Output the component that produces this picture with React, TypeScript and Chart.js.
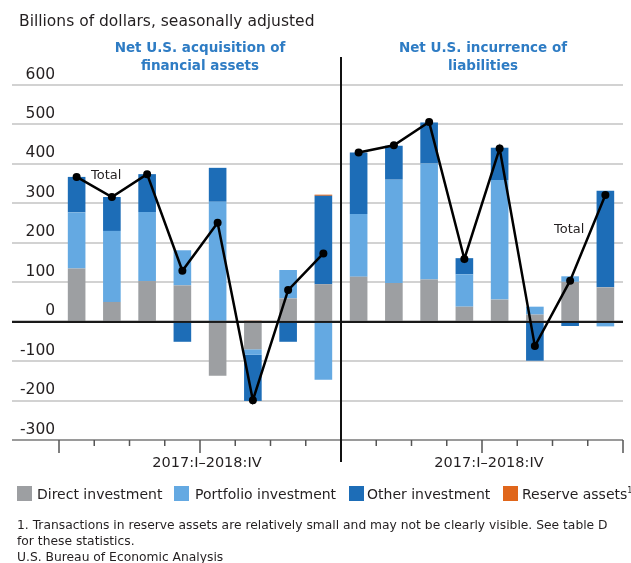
import React, { useEffect, useRef } from "react";
import { Chart, registerables } from "chart.js";

Chart.register(...registerables);

// ---- data ----
const quarters = ["2017:I", "2017:II", "2017:III", "2017:IV", "2018:I", "2018:II", "2018:III", "2018:IV"];
const panelLabel = "2017:I–2018:IV";

const assetsDirect = [135, 50, 103, 92, -137, -70, 59, 95];
const assetsPortfolio = [142, 180, 175, 89, 304, -14, 72, -147];
const assetsOther = [90, 86, 96, -51, 86, -117, -51, 224];
const assetsReserve = [0, 0, 0, 0, 0, 2, 0, 3];
const assetsTotal = [367, 316, 374, 129, 251, -199, 80, 173];

const liabDirect = [114, 98, 107, 38, 56, 18, 101, 87];
const liabPortfolio = [159, 262, 294, 82, 303, 20, 14, -12];
const liabOther = [156, 86, 104, 41, 82, -99, -11, 245];
const liabReserve = [0, 0, 0, 0, 0, 0, 0, 0];
const liabTotal = [429, 447, 506, 159, 439, -62, 104, 321];

const yMin = -300;
const yMax = 600;
const yStep = 100;

const COLORS = {
  direct: "#9d9fa2",
  portfolio: "#64a9e2",
  other: "#1d6db7",
  reserve: "#e0661b",
  total: "#000000",
  header: "#2e7cc4",
  text: "#231f20",
};

const FONT = "'DejaVu Sans', 'Noto Sans', sans-serif";

const nQ = quarters.length;
const pt = (panel: number, vals: number[]) =>
  vals.map((v, i) => ({ x: panel * nQ + i + 0.5, y: v }));
const both = (a: number[], b: number[]) => [...pt(0, a), ...pt(1, b)];

const App = () => {
  const ref = useRef<HTMLCanvasElement | null>(null);

  useEffect(() => {
    if (!ref.current) return;
    const barCommon = { barPercentage: 0.5, categoryPercentage: 1, borderWidth: 0, order: 2 };
    const lineCommon = {
      type: "line" as const,
      borderColor: COLORS.total,
      backgroundColor: COLORS.total,
      borderWidth: 2.5,
      pointRadius: 4,
      pointBackgroundColor: COLORS.total,
      pointBorderWidth: 0,
      order: 1,
      tension: 0,
    };

    const zeroAndFrame = {
      id: "zeroAndFrame",
      afterDatasetDraw(chart: any, args: any) {
        if (args.index !== 0) return;
        const { ctx, chartArea, scales } = chart;
        const y0 = scales.y.getPixelForValue(0);
        ctx.save();
        ctx.strokeStyle = "#1a1a1a";
        ctx.lineWidth = 2;
        ctx.beginPath();
        ctx.moveTo(chartArea.left, y0);
        ctx.lineTo(chartArea.right, y0);
        ctx.stroke();
        ctx.restore();
      },
      afterDraw(chart: any) {
        const { ctx, chartArea, scales } = chart;
        const x = scales.x;
        const bottom = chartArea.bottom;
        ctx.save();
        ctx.strokeStyle = "#555";
        ctx.lineWidth = 1.5;
        for (let v = 0; v <= 2 * nQ; v++) {
          if (v === nQ) continue;
          const px = x.getPixelForValue(v);
          const long = v % (nQ / 2) === 0;
          ctx.beginPath();
          ctx.moveTo(px, bottom);
          ctx.lineTo(px, bottom + (long ? 13 : 6));
          ctx.stroke();
        }
        // panel divider
        const dx = x.getPixelForValue(nQ);
        ctx.strokeStyle = "#111";
        ctx.lineWidth = 2;
        ctx.beginPath();
        ctx.moveTo(dx, chartArea.top - 28);
        ctx.lineTo(dx, bottom + 22);
        ctx.stroke();
        ctx.restore();
      },
    };

    const chart = new Chart(ref.current, {
      type: "bar",
      data: {
        datasets: [
          { label: "Direct investment", data: both(assetsDirect, liabDirect), backgroundColor: COLORS.direct, ...barCommon },
          { label: "Portfolio investment", data: both(assetsPortfolio, liabPortfolio), backgroundColor: COLORS.portfolio, ...barCommon },
          { label: "Other investment", data: both(assetsOther, liabOther), backgroundColor: COLORS.other, ...barCommon },
          { label: "Reserve assets", data: both(assetsReserve, liabReserve), backgroundColor: COLORS.reserve, ...barCommon },
          { label: "Total (assets)", data: pt(0, assetsTotal), stack: "totalA", ...lineCommon } as any,
          { label: "Total (liabilities)", data: pt(1, liabTotal), stack: "totalL", ...lineCommon } as any,
        ],
      },
      options: {
        animation: false,
        responsive: false,
        layout: { padding: { left: 12, right: 8, top: 85, bottom: 91 } },
        plugins: { legend: { display: false }, tooltip: { enabled: false } },
        scales: {
          x: {
            type: "linear",
            offset: false,
            min: -4 / 3,
            max: 2 * nQ,
            stacked: true,
            grid: { display: false, drawTicks: false },
            border: { display: false },
            afterBuildTicks: (s: any) => {
              s.ticks = [{ value: nQ / 2 }, { value: nQ + nQ / 2 }];
            },
            afterFit: (s: any) => {
              s.height = 32;
              s.paddingLeft = 0;
              s.paddingRight = 0;
            },
            ticks: {
              callback: () => panelLabel,
              padding: 15,
              labelOffset: 7,
              autoSkip: false,
              maxRotation: 0,
              color: COLORS.text,
              font: { family: FONT, size: 14.5 },
            },
          },
          y: {
            min: yMin,
            max: yMax,
            stacked: true,
            border: { display: false },
            afterFit: (s: any) => {
              s.width = 0;
              s.paddingTop = 0;
              s.paddingBottom = 0;
            },
            grid: {
              drawTicks: false,
              lineWidth: 2,
              color: (c: any) =>
                c.tick && c.tick.value === 0 ? "#1a1a1a" : c.tick && c.tick.value === yMin ? "#9a9a9a" : "#d2d2d2",
            },
            ticks: {
              stepSize: yStep,
              mirror: true,
              crossAlign: "far",
              padding: 8,
              labelOffset: -10.5,
              color: COLORS.text,
              font: { family: FONT, size: 15.5 },
            },
          },
        },
      },
      plugins: [zeroAndFrame],
    } as any);
    return () => chart.destroy();
  }, []);

  const abs = (style: any): any => ({ position: "absolute", whiteSpace: "nowrap", ...style });
  const legend = [
    { label: "Direct investment", color: COLORS.direct, box: 17, text: 37 },
    { label: "Portfolio investment", color: COLORS.portfolio, box: 174, text: 195 },
    { label: "Other investment", color: COLORS.other, box: 349, text: 367 },
    { label: "Reserve assets", color: COLORS.reserve, box: 503, text: 522, sup: true },
  ];
  const header = (left: number) =>
    abs({
      left,
      top: 38,
      transform: "translateX(-50%)",
      textAlign: "center",
      fontSize: 13.5,
      fontWeight: 700,
      lineHeight: "18px",
      color: COLORS.header,
    });

  return (
    <div
      style={{
        position: "absolute",
        left: 0,
        top: 0,
        width: 631,
        height: 563,
        background: "#fff",
        fontFamily: FONT,
        color: COLORS.text,
        overflow: "hidden",
      }}
    >
      <canvas ref={ref} width={631} height={563} style={{ position: "absolute", left: 0, top: 0 }} />
      <div style={abs({ left: 19, top: 10, fontSize: 15.5, lineHeight: "22px" })}>
        Billions of dollars, seasonally adjusted
      </div>
      <div style={header(200)}>
        Net U.S. acquisition of
        <br />
        financial assets
      </div>
      <div style={header(483)}>
        Net U.S. incurrence of
        <br />
        liabilities
      </div>
      <div style={abs({ left: 91, top: 166, fontSize: 13, lineHeight: "18px" })}>Total</div>
      <div style={abs({ left: 554, top: 220, fontSize: 13, lineHeight: "18px" })}>Total</div>
      {legend.map((l) => (
        <React.Fragment key={l.label}>
          <div style={abs({ left: l.box, top: 486, width: 15, height: 15, background: l.color })} />
          <div style={abs({ left: l.text, top: 484, fontSize: 14, lineHeight: "20px" })}>
            {l.label}
            {l.sup ? <sup style={{ fontSize: 8, verticalAlign: "top", lineHeight: "14px" }}>1</sup> : null}
          </div>
        </React.Fragment>
      ))}
      <div style={abs({ left: 17, top: 517, fontSize: 12.3, lineHeight: "16px" })}>
        1. Transactions in reserve assets are relatively small and may not be clearly visible. See table D
        <br />
        for these statistics.
      </div>
      <div style={abs({ left: 17, top: 549, fontSize: 12.3, lineHeight: "16px" })}>U.S. Bureau of Economic Analysis</div>
    </div>
  );
};

export default App;
